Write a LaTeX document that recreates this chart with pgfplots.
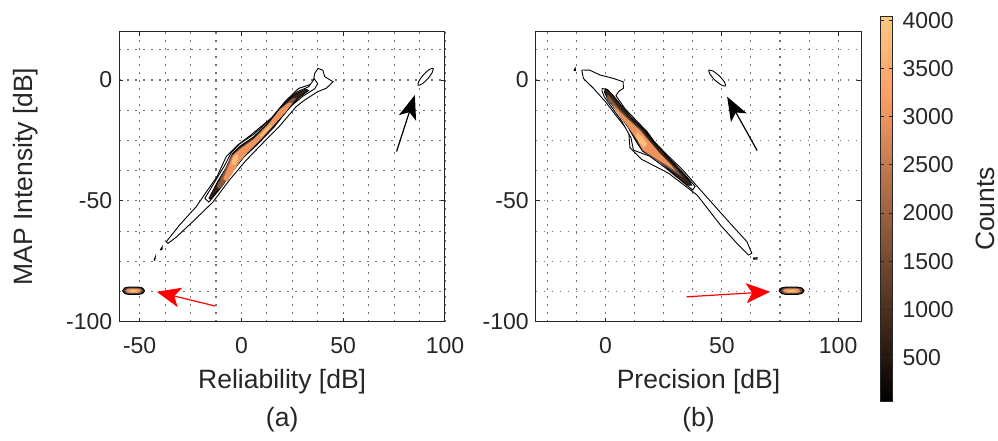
\documentclass[border=0pt]{standalone}
\usepackage{fontspec}
\setmainfont{Liberation Sans}
\usepackage{pgfplots}
\pgfplotsset{compat=1.18}
\usetikzlibrary{arrows.meta}

\definecolor{axgray}{RGB}{38,38,38}
\definecolor{gridgray}{RGB}{115,115,115}
% copper colormap samples for the filled contour levels
\definecolor{cuA}{rgb}{0.217,0.135,0.086}
\definecolor{cuB}{rgb}{0.557,0.348,0.222}
\definecolor{cuC}{rgb}{0.928,0.580,0.370}
\definecolor{cuD}{rgb}{1.000,0.735,0.468}

\pgfplotsset{
  panel/.style={
    scale only axis, width=162.85pt, height=145pt,
    clip mode=individual,
    ymin=-100, ymax=20, ytick={-100,-50,0},
    minor ytick={-87.5,-75,-62.5,-37.5,-25,-12.5,12.5},
    grid=both,
    major grid style={gridgray, dash pattern=on 0.7pt off 3.3pt, line width=0.55pt},
    minor grid style={gridgray, dash pattern=on 0.7pt off 3.3pt, line width=0.55pt},
    tick align=inside, major tick length=2pt, minor tick length=0pt,
    axis line style={axgray, line width=0.5pt},
    every tick/.style={axgray, line width=0.5pt},
    tick label style={font=\fontsize{11.5}{13}\selectfont, text=axgray},
    xticklabel style={yshift=-4.5pt},
    label style={font=\fontsize{13.25}{15}\selectfont, text=axgray},
    /pgf/number format/assume math mode=true,
    xlabel style={at={(axis description cs:0.5,-0.207)}, anchor=center},
    no markers,
  },
  outer/.style={fill=white, draw=black, line width=0.45pt},
  lvA/.style={fill=cuA, draw=black, line width=0.4pt},
  lvB/.style={fill=cuB, draw=black!70, line width=0.25pt},
  lvC/.style={fill=cuC, draw=none},
  lvD/.style={fill=cuD, draw=none},
}

\begin{document}
\begin{tikzpicture}
\path[use as bounding box] (-59.65pt,-59.15pt) rectangle (439.35pt,160.85pt);

% ---------------- (a) ----------------
\begin{axis}[panel,
  xmin=-60, xmax=100, xtick={-50,0,50,100},
  minor xtick={-37.5,-25,-12.5,12.5,25,37.5,62.5,75,87.5},
  xlabel={Reliability [dB]}, ylabel={MAP Intensity [dB]},
  ylabel style={at={(axis description cs:-0.288,0.5)}, anchor=center},
]
\addplot[outer] coordinates {(-36.9,-66.9) (-30.4,-60) (-22.2,-52.4) (-17,-46) (-12,-40) (-7.5,-31.7) (-2,-27) (5,-22.5) (15,-15.5) (21.5,-8.8) (28,-3.5) (35.1,-1.5) (36,2.8) (37.6,4.8) (40,4.1) (40.9,1.4) (45,-0.7) (41.7,-3.4) (37.5,-4.8) (31,-8.3) (26.9,-11) (18.8,-19) (10.6,-26) (2,-33.5) (-6,-41.5) (-14,-50.5) (-23.8,-58.5) (-32,-65) (-36.1,-67.6) (-36.9,-66.9)};
\addplot[outer] coordinates {(-18,-49) (-13,-42) (-8,-35) (-5,-30) (-1,-26.5) (6,-22.5) (14,-16.5) (20.5,-10) (27,-5) (33,-2.8) (35.8,0.5) (37.5,-1.5) (36,-3.6) (30,-6.8) (24,-11) (16,-19.5) (8,-26.5) (1,-32) (-5,-38.5) (-11,-45.5) (-16,-50.5) (-18,-49)};
\addplot[lvA] coordinates {(-16,-49) (-12,-42.5) (-7,-35.5) (-4.5,-30.5) (-1,-27.5) (6,-23.5) (14,-17) (21,-10) (27,-5.5) (31.5,-3.8) (33,-4.3) (28,-7.5) (22,-13) (15,-20) (8,-26) (2,-31) (-3,-36) (-8,-41.5) (-12,-46) (-15,-49.3) (-16,-49)};
\addplot[lvB] coordinates {(-12,-44) (-8,-37) (-5,-31.5) (-1,-28.5) (6,-24.5) (13,-18.5) (20,-11.5) (25,-7.5) (27,-7.5) (22,-12.5) (15,-19.5) (8,-25.5) (2,-30.5) (-3,-35.5) (-9,-43.5) (-11,-45) (-12,-44)};
\addplot[lvC] coordinates {(-9,-41) (-6,-35) (-4,-31) (-0.5,-28.5) (6,-24.5) (13,-18.5) (19,-12) (23,-9.5) (25,-9.5) (22,-13) (16,-18.5) (9,-25) (3,-30) (-1,-34) (-4,-38) (-7,-42) (-9,-41)};
\addplot[lvD] coordinates {(-5,-35) (-4,-32) (-2,-30.5) (-1.5,-32.5) (-3,-35) (-5,-35)};
\addplot[lvD] coordinates {(9,-23) (14,-18.5) (15,-19) (10,-23.5) (9,-23)};
% isolated small contours at the tail
\addplot[outer] coordinates {(-39.9,-70.3) (-38.9,-69.0) (-39.0,-70.1) (-39.9,-70.3)};
\addplot[outer] coordinates {(-43.0,-74.6) (-42.3,-73.2) (-42.5,-74.5) (-43.0,-74.6)};
% cluster near (92,2)
\addplot[outer, smooth, tension=0.5] coordinates {(94.17,4.90) (93.83,3.29) (91.57,0.55) (88.67,-1.64) (86.81,-2.13) (87.15,-0.52) (89.41,2.21) (92.31,4.40) (94.17,4.90)};
% cluster near (-53,-87)
\addplot[lvA, smooth, tension=0.5] coordinates {(-58.4,-87.2) (-57.3,-86.0) (-55.7,-85.7) (-50.3,-85.7) (-48.7,-86.0) (-47.6,-87.2) (-48.7,-88.4) (-50.3,-88.7) (-55.7,-88.7) (-57.3,-88.4) (-58.4,-87.2)};
\addplot[lvB, smooth, tension=0.5] coordinates {(-57.4,-87.2) (-56.5,-86.3) (-55.2,-86.1) (-50.8,-86.1) (-49.5,-86.3) (-48.6,-87.2) (-49.5,-88.1) (-50.8,-88.3) (-55.2,-88.3) (-56.5,-88.1) (-57.4,-87.2)};
\addplot[lvC, smooth, tension=0.5] coordinates {(-56.6,-87.2) (-55.9,-86.5) (-54.8,-86.35) (-51.2,-86.35) (-50.1,-86.5) (-49.4,-87.2) (-50.1,-87.9) (-51.2,-88.05) (-54.8,-88.05) (-55.9,-87.9) (-56.6,-87.2)};
\addplot[lvD, smooth, tension=0.5] coordinates {(-55,-87.2) (-54,-86.8) (-52,-86.8) (-51,-87.2) (-52,-87.6) (-54,-87.6) (-55,-87.2)};
% annotation arrows
\draw[black, line width=0.6pt, -{Stealth[length=12pt,width=9pt,inset=3pt]}] (axis cs:76.2,-29.6) -- (axis cs:85.2,-6.2);
\draw[red, line width=0.6pt, -{Stealth[length=12pt,width=10pt,inset=3pt]}] (axis cs:-13,-93.5) -- (axis cs:-41.6,-87.6);
\node[font=\fontsize{13.25}{15}\selectfont, text=axgray] at (axis description cs:0.5,-0.339) {(a)};
\end{axis}

% ---------------- (b) ----------------
\begin{axis}[panel, at={(208.2pt,0pt)},
  xmin=-30, xmax=110, xtick={0,50,100},
  minor xtick={-25,-12.5,12.5,25,37.5,62.5,75,87.5},
  xlabel={Precision [dB]},
  colormap={copper}{rgb(0pt)=(0,0,0); rgb(8pt)=(1,0.625,0.398); rgb(10pt)=(1,0.7812,0.4975)},
  point meta min=40, point meta max=4040,
  colorbar,
  colorbar style={
    scale only axis, width=5.85pt, height=192.5pt,
    at={(parent axis.north east)}, anchor=north west,
    xshift=1.15pt, yshift=7.5pt,
    ytick={500,1000,...,4000}, grid=none,
    tick align=inside, major tick length=1.5pt,
    axis line style={axgray, line width=0.5pt},
    every tick/.style={axgray, line width=0.5pt},
    yticklabel style={font=\fontsize{11.5}{13}\selectfont, text=axgray, xshift=1.5pt, /pgf/number format/1000 sep={}},
    /pgf/number format/assume math mode=true,
  },
]
\addplot[outer] coordinates {(-10.2,4.15) (-6.8,4.1) (-2.4,2.1) (3.3,0.7) (7.6,-0.7) (7.7,-3.4) (5.6,-4.8) (4.5,-6.5) (8.5,-12) (14,-17.5) (18,-21.5) (21,-25.5) (26,-30.5) (33,-37) (42.1,-46.9) (53.6,-59.3) (60.8,-66.9) (62.9,-71.7) (61.5,-72.4) (56.5,-67.6) (49.4,-60) (39.4,-47.6) (27,-38.5) (15.5,-32.8) (10.5,-28) (10,-21.4) (4,-14) (0,-9) (-5.2,-3.4) (-9.5,0.7) (-10.2,4.15)};
\addplot[outer] coordinates {(-1.5,-3.5) (1,-4) (4,-8) (9,-13.5) (14,-18) (18,-22) (22,-27) (28,-33) (34,-39) (38.5,-44) (37.5,-45.5) (33,-42) (26,-36.5) (19,-31.5) (12,-29) (11,-24) (7,-17) (2.5,-11) (-0.5,-7) (-1.5,-4.5) (-1.5,-3.5)};
\addplot[lvA] coordinates {(0,-3.5) (3,-6) (8,-12) (13,-17.5) (17,-21) (20,-25) (25,-30) (31,-36.5) (36,-41.5) (37,-43.5) (35,-43.5) (29,-38.5) (23,-33.5) (16,-29.5) (13.5,-26) (10,-20) (5,-13) (1,-8) (-0.5,-5) (0,-3.5)};
\addplot[lvB] coordinates {(1,-6) (6,-12) (11,-17) (15,-20.5) (19,-25.5) (24,-31) (30,-36.5) (33,-40) (28,-37) (21,-32.5) (16,-29) (13.5,-24.5) (8,-17) (3,-10.5) (0.5,-7.5) (1,-6)};
\addplot[lvC] coordinates {(3,-10) (7,-14) (11,-17.5) (15,-21) (19,-25.5) (23,-30) (28,-35) (30,-37.5) (26,-35) (20,-31.5) (16,-29) (13.8,-25) (9.5,-19) (5,-13.5) (3,-10)};
\addplot[lvD] coordinates {(13.5,-21.5) (16,-23.5) (18,-26.5) (16.5,-28) (14.5,-26) (13,-23.5) (13.5,-21.5)};
% isolated small contours
\addplot[outer] coordinates {(-13.6,4.0) (-13.0,4.9) (-12.9,3.9) (-13.6,4.0)};
\addplot[outer] coordinates {(63.6,-73.6) (65.2,-73.5) (65.1,-74.1) (63.6,-74.1) (63.6,-73.6)};
% cluster near (48,1)
\addplot[outer, smooth, tension=0.5] coordinates {(44.36,4.15) (46.09,3.78) (48.89,1.75) (51.13,-0.85) (51.56,-2.46) (49.88,-2.09) (47.08,-0.07) (44.84,2.54) (44.36,4.15)};
% cluster near (80,-87)
\addplot[lvA, smooth, tension=0.5] coordinates {(74.6,-87.2) (75.7,-86.0) (77.3,-85.7) (82.7,-85.7) (84.3,-86.0) (85.4,-87.2) (84.3,-88.4) (82.7,-88.7) (77.3,-88.7) (75.7,-88.4) (74.6,-87.2)};
\addplot[lvB, smooth, tension=0.5] coordinates {(75.6,-87.2) (76.5,-86.3) (77.8,-86.1) (82.2,-86.1) (83.5,-86.3) (84.4,-87.2) (83.5,-88.1) (82.2,-88.3) (77.8,-88.3) (76.5,-88.1) (75.6,-87.2)};
\addplot[lvC, smooth, tension=0.5] coordinates {(76.4,-87.2) (77.1,-86.5) (78.2,-86.35) (81.8,-86.35) (82.9,-86.5) (83.6,-87.2) (82.9,-87.9) (81.8,-88.05) (78.2,-88.05) (77.1,-87.9) (76.4,-87.2)};
\addplot[lvD, smooth, tension=0.5] coordinates {(78,-87.2) (79,-86.8) (81,-86.8) (82,-87.2) (81,-87.6) (79,-87.6) (78,-87.2)};
% annotation arrows
\draw[black, line width=0.6pt, -{Stealth[length=12pt,width=9pt,inset=3pt]}] (axis cs:65.2,-29.2) -- (axis cs:52.3,-6.9);
\draw[red, line width=0.6pt, -{Stealth[length=12pt,width=10pt,inset=3pt]}] (axis cs:34.9,-89.7) -- (axis cs:70.8,-87.6);
\node[font=\fontsize{13.25}{15}\selectfont, text=axgray] at (axis description cs:0.5,-0.339) {(b)};
\node[font=\fontsize{13.25}{15}\selectfont, text=axgray, rotate=90] at (axis description cs:1.382,0.389) {Counts};
\end{axis}
\end{tikzpicture}
\end{document}
